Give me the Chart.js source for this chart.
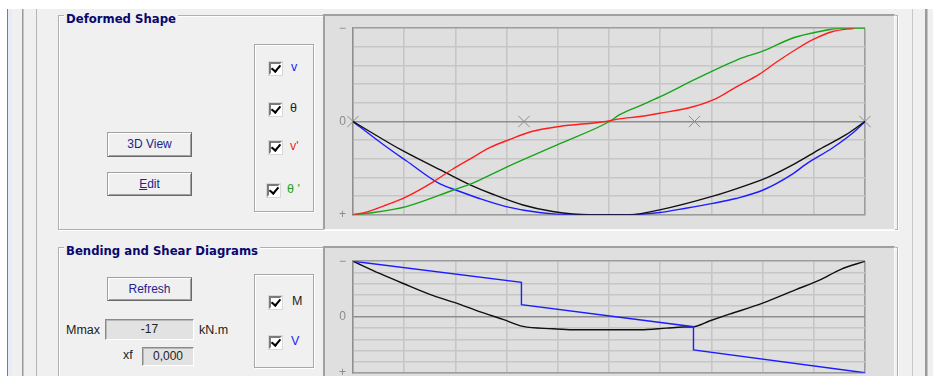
<!DOCTYPE html>
<html>
<head>
<meta charset="utf-8">
<script src="https://cdn.jsdelivr.net/npm/chart.js@4.4.1/dist/chart.umd.min.js"></script>
<style>
body { margin:0; width:933px; height:376px; overflow:hidden; background:#f0f0f0; position:relative;
  font:12px "Liberation Sans", Arial, sans-serif; }
.a { position:absolute; }
.group { position:absolute; border:1px solid #b0b0b0; box-shadow:inset 1px 1px 0 #fff, 1px 1px 0 #fff; }
.gtitle { position:absolute; background:#f0f0f0; font:bold 11.7px "DejaVu Sans", sans-serif; color:#08086e;
  padding:0 2px; line-height:14px; }
.btn { position:absolute; box-sizing:border-box; width:85px; background:#f0f0f0; color:#23238a;
  border:1px solid; border-color:#a0a0a0 #6a6a6a #6a6a6a #a0a0a0; box-shadow:inset 1px 1px 0 #fff, inset -1px -1px 0 #a0a0a0;
  text-align:center; }
.cpanel { position:absolute; border:1px solid #a8a8a8; box-shadow:inset 1px 1px 0 #fff, 1px 1px 0 #fff; }
.cb { position:absolute; box-sizing:border-box; width:13px; height:13px; background:#fff;
  border:2px solid; border-color:#7a7a7a #fff #fff #7a7a7a; box-shadow:0 0 0 1px #d8d8d8; }
.cb::after { content:''; position:absolute; left:2px; top:-1px; width:4px; height:7px;
  border:solid #000; border-width:0 2px 2px 0; transform:rotate(40deg); }
.lbl { position:absolute; font-size:12.5px; line-height:14px; }
.tb { position:absolute; box-sizing:border-box; background:#e2e2e2; border:1px solid; border-color:#8a8a8a #fff #fff #8a8a8a;
  box-shadow:inset 1px 1px 0 #b8b8b8; text-align:center; color:#222; }
.panel { position:absolute; box-sizing:border-box; background:#dfdfdf; border-top:2px solid #a0a0a0; border-left:2px solid #a0a0a0;
  border-right:1px solid #fafafa; border-bottom:1px solid #fafafa; }
canvas { position:absolute; }
</style>
</head>
<body>
<div class="a" style="left:0;top:0;width:933px;height:9px;background:#fff"></div>
<div class="a" style="left:0;top:9px;width:7px;height:367px;background:#fff"></div>
<div class="a" style="left:7px;top:9px;width:1px;height:367px;background:#7c7c7c"></div>
<div class="a" style="left:8px;top:9px;width:4px;height:367px;background:#e6edf6"></div>
<div class="a" style="left:22px;top:9px;width:1px;height:367px;background:#9a9a9a"></div>
<div class="a" style="left:23px;top:9px;width:1px;height:367px;background:#c4c4c4"></div>
<div class="a" style="left:36px;top:9px;width:1px;height:367px;background:#b4b4b4"></div>
<div class="a" style="left:912px;top:9px;width:1px;height:367px;background:#c8c8c8"></div>
<div class="a" style="left:925px;top:9px;width:2px;height:367px;background:#9a9a9a"></div>
<div class="a" style="left:927px;top:9px;width:1px;height:367px;background:#c4c4c4"></div>

<div class="group" style="left:58px;top:15px;width:838px;height:213px"></div>
<div class="gtitle" style="left:64px;top:12px">Deformed Shape</div>
<div class="btn" style="left:107px;top:132px;height:25px;line-height:23px">3D View</div>
<div class="btn" style="left:107px;top:172px;height:24px;line-height:22px"><u>E</u>dit</div>
<div class="cpanel" style="left:254px;top:44px;width:58px;height:166px"></div>
<div class="cb" style="left:269px;top:62px"></div><div class="lbl" style="left:291px;top:60px;color:#1c1cf0">v</div>
<div class="cb" style="left:269px;top:103px"></div><div class="lbl" style="left:290px;top:101px;color:#222">θ</div>
<div class="cb" style="left:269px;top:141px"></div><div class="lbl" style="left:290px;top:139px;color:#f01c1c">v'</div>
<div class="cb" style="left:267px;top:184px"></div><div class="lbl" style="left:287px;top:182px;color:#1ca01c">θ '</div>

<div class="group" style="left:58px;top:247px;width:838px;height:200px"></div>
<div class="gtitle" style="left:64px;top:244px">Bending and Shear Diagrams</div>
<div class="btn" style="left:107px;top:277px;height:24px;line-height:22px">Refresh</div>
<div class="lbl" style="left:66px;top:323px;color:#222">Mmax</div>
<div class="tb" style="left:105px;top:319px;width:89px;height:21px;line-height:19px">-17</div>
<div class="lbl" style="left:199px;top:323px;color:#222">kN.m</div>
<div class="lbl" style="left:123px;top:348px;color:#222">xf</div>
<div class="tb" style="left:142px;top:347px;width:52px;height:19px;line-height:17px">0,000</div>
<div class="cpanel" style="left:254px;top:274px;width:58px;height:92px"></div>
<div class="cb" style="left:269px;top:296px"></div><div class="lbl" style="left:292px;top:294px;color:#222">M</div>
<div class="cb" style="left:269px;top:336px"></div><div class="lbl" style="left:291px;top:334px;color:#1c1cf0">V</div>

<div class="panel" style="left:323px;top:14px;width:572px;height:216px"></div>
<div class="panel" style="left:323px;top:246px;width:572px;height:140px"></div>
<canvas id="deformed" width="571" height="215" style="left:323px;top:14px"></canvas>
<canvas id="forces" width="571" height="140" style="left:323px;top:247px"></canvas>

<script>
'use strict';

// deformed shape, x along the beam (0..1), y normalised (-1 top .. +1 bottom)
var vX = [0, 0.059, 0.104, 0.169, 0.202, 0.247, 0.299, 0.364, 0.43, 0.54, 0.599, 0.65, 0.703, 0.748, 0.8, 0.859, 0.885, 0.937, 0.976, 1];
var vY = [0, 0.246, 0.421, 0.667, 0.737, 0.825, 0.912, 0.976, 1, 1, 0.976, 0.93, 0.877, 0.825, 0.737, 0.561, 0.456, 0.281, 0.123, 0];

var thetaX = [0, 0.098, 0.182, 0.231, 0.273, 0.332, 0.39, 0.462, 0.54, 0.599, 0.703, 0.768, 0.813, 0.865, 0.911, 0.963, 1];
var thetaY = [0, 0.316, 0.55, 0.684, 0.78, 0.895, 0.965, 1, 1, 0.947, 0.8, 0.684, 0.59, 0.446, 0.298, 0.141, 0];

var vpX = [0, 0.02, 0.065, 0.104, 0.156, 0.195, 0.228, 0.267, 0.306, 0.351, 0.403, 0.494, 0.52, 0.56, 0.599, 0.664, 0.709, 0.748, 0.794, 0.826, 0.865, 0.898, 0.937, 0.979];
var vpY = [1, 0.98, 0.895, 0.807, 0.649, 0.509, 0.404, 0.281, 0.193, 0.105, 0.053, 0, -0.028, -0.053, -0.088, -0.158, -0.245, -0.368, -0.508, -0.632, -0.772, -0.877, -0.965, -1];

var thetapX = [0, 0.033, 0.104, 0.195, 0.234, 0.299, 0.403, 0.501, 0.52, 0.56, 0.599, 0.67, 0.761, 0.8, 0.859, 0.911, 0.954, 1];
var thetapY = [1, 0.98, 0.912, 0.737, 0.66, 0.491, 0.24, 0, -0.07, -0.168, -0.263, -0.456, -0.684, -0.754, -0.895, -0.965, -1, -1];

var supportX = [0, 0.334, 0.667, 1];
var supportY = [0, 0, 0, 0];

// bending moment and shear
var momentX = [0, 0.052, 0.098, 0.15, 0.202, 0.247, 0.293, 0.332, 0.39, 0.429, 0.52, 0.56, 0.612, 0.644, 0.665, 0.696, 0.735, 0.8, 0.865, 0.911, 0.953, 1];
var momentY = [-1, -0.78, -0.6, -0.405, -0.248, -0.096, 0.044, 0.169, 0.21, 0.228, 0.228, 0.228, 0.2, 0.18, 0.174, 0.072, -0.05, -0.248, -0.49, -0.66, -0.855, -1];

var shearX = [0, 0.329, 0.329, 0.665, 0.665, 1];
var shearY = [-1, -0.62, -0.22, 0.174, 0.59, 1];

var yLabels = { '-1': '\u2212', '0': '0', '1': '+' };

function pts(xs, ys) {
  return xs.map(function(x, i) { return { x: x, y: ys[i] }; });
}

function curve(xs, ys, color, smooth) {
  return {
    data: pts(xs, ys), borderColor: color, borderWidth: 1.4, pointRadius: 0,
    cubicInterpolationMode: smooth ? 'monotone' : 'default', tension: 0, order: 1
  };
}

function near(a, b) { return Math.abs(a - b) < 1e-6; }

function options(pad) {
  return {
    responsive: false, animation: false, devicePixelRatio: 1,
    layout: { padding: pad },
    plugins: { legend: { display: false }, tooltip: { enabled: false } },
    scales: {
      x: {
        type: 'linear', min: 0, max: 1,
        ticks: { display: false, stepSize: 0.1, autoSkip: false },
        grid: {
          drawTicks: false, lineWidth: 1.6,
          color: function(c) { return c.tick && near(c.tick.value, 1) ? '#9c9c9c' : '#c6c6c6'; }
        },
        border: { color: '#9c9c9c', width: 1.5 },
        afterFit: function(s) { s.height = 0; }
      },
      y: {
        min: -1, max: 1, reverse: true,
        ticks: {
          stepSize: 0.2, autoSkip: false, padding: 7, color: '#8a8a8a',
          font: { family: '"Liberation Sans", Arial', size: 12 },
          callback: function(v) {
            for (var k in yLabels) { if (near(v, +k)) return yLabels[k]; }
            return '';
          }
        },
        grid: {
          drawTicks: false, lineWidth: 1.6,
          color: function(c) {
            if (!c.tick) return '#c6c6c6';
            if (near(c.tick.value, 0)) return '#8e8e8e';
            if (near(c.tick.value, -1)) return '#9c9c9c';
            return '#c6c6c6';
          }
        },
        border: { color: '#8e8e8e', width: 1.5 },
        afterFit: function(s) { s.width = 30; }
      }
    }
  };
}

new Chart(document.getElementById('deformed'), {
  type: 'line',
  data: {
    datasets: [
      curve(vpX, vpY, '#ff1e1e', true),
      curve(thetapX, thetapY, '#16a516', true),
      curve(thetaX, thetaY, '#101010', true),
      curve(vX, vY, '#1c1cff', true),
      {
        data: pts(supportX, supportY), showLine: false, pointStyle: 'crossRot', pointRadius: 8,
        pointBorderColor: '#8c8c8c', pointBorderWidth: 1, clip: false, order: 5
      }
    ]
  },
  options: options({ left: 0, top: 13, right: 29, bottom: 11 })
});

new Chart(document.getElementById('forces'), {
  type: 'line',
  data: {
    datasets: [
      curve(shearX, shearY, '#1c1cff', false),
      curve(momentX, momentY, '#101010', true)
    ]
  },
  options: options({ left: 0, top: 9, right: 29, bottom: 12 })
});
</script>
</body>
</html>
